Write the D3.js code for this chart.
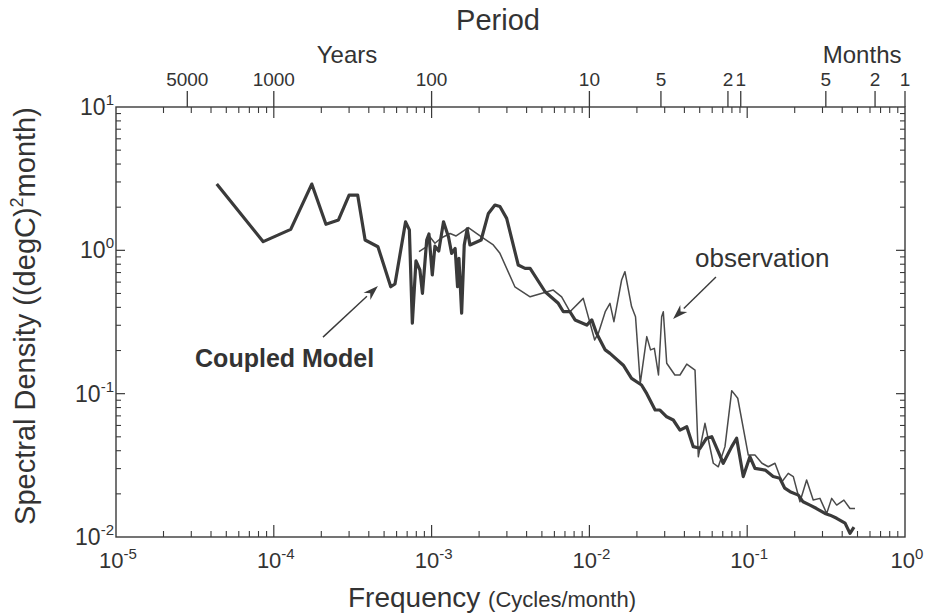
<!DOCTYPE html>
<html><head><meta charset="utf-8">
<script src="https://cdn.jsdelivr.net/npm/d3@7"></script>
<style>body{margin:0;background:#fff}svg{display:block}</style></head>
<body><svg id="c" width="928" height="615"></svg>
<script>
// ---- data ----
const modelFreq = [4.35e-5, 8.57e-5, 1.28e-4, 1.74e-4, 2.14e-4, 2.57e-4, 3.00e-4, 3.40e-4, 3.79e-4, 4.57e-4,
  5.51e-4, 5.86e-4, 6.84e-4, 7.23e-4, 7.55e-4, 7.96e-4, 8.43e-4, 8.75e-4, 9.31e-4, 9.62e-4,
  1.01e-3, 1.05e-3, 1.11e-3, 1.19e-3, 1.28e-3, 1.34e-3, 1.41e-3, 1.46e-3, 1.49e-3, 1.55e-3,
  1.61e-3, 1.68e-3, 1.75e-3, 2.06e-3, 2.29e-3, 2.52e-3, 2.71e-3, 2.99e-3, 3.54e-3, 3.91e-3,
  4.21e-3, 5.24e-3, 6.35e-3, 6.84e-3, 7.53e-3, 8.11e-3, 9.62e-3, 1.035e-2, 1.11e-2, 1.26e-2,
  1.35e-2, 1.64e-2, 1.85e-2, 2.14e-2, 2.31e-2, 2.61e-2, 2.80e-2, 3.09e-2, 3.40e-2, 3.75e-2,
  4.14e-2, 4.55e-2, 5.02e-2, 5.53e-2, 5.96e-2, 7.05e-2, 7.98e-2, 8.57e-2, 9.44e-2, 0.104,
  0.112, 0.130, 0.146, 0.161, 0.173, 0.187, 0.211, 0.226, 0.250, 0.275,
  0.311, 0.335, 0.369, 0.417, 0.448, 0.475];
const modelDensity = [2.90, 1.15, 1.40, 2.90, 1.52, 1.63, 2.43, 2.43, 1.18, 1.06,
  0.557, 0.582, 1.58, 1.39, 0.310, 0.843, 0.729, 0.501, 1.18, 1.30,
  0.673, 1.07, 0.99, 1.58, 1.24, 0.953, 1.03, 0.557, 0.879, 0.364,
  1.09, 1.41, 1.09, 1.18, 1.81, 2.07, 2.02, 1.67, 0.790, 0.749,
  0.749, 0.514, 0.427, 0.373, 0.373, 0.327, 0.301, 0.327, 0.264, 0.202,
  0.191, 0.158, 0.128, 0.115, 0.100, 0.0769, 0.0769, 0.0690, 0.0655, 0.0557,
  0.0588, 0.0427, 0.0416, 0.0489, 0.0501, 0.0327, 0.0427, 0.0489, 0.0264, 0.0363,
  0.0301, 0.0293, 0.0264, 0.0257, 0.0219, 0.0207, 0.0196, 0.0176, 0.0167, 0.0158,
  0.0146, 0.0142, 0.0135, 0.0125, 0.0106, 0.0117];

const obsFreq = [8.32e-4, 9.31e-4, 9.77e-4, 1.05e-3, 1.15e-3, 1.31e-3, 1.43e-3, 1.71e-3, 2.07e-3, 2.46e-3,
  2.71e-3, 3.37e-3, 4.21e-3, 5.90e-3, 6.67e-3, 7.53e-3, 9.14e-3, 1.08e-2, 1.14e-2, 1.26e-2,
  1.35e-2, 1.43e-2, 1.60e-2, 1.68e-2, 1.85e-2, 1.96e-2, 2.10e-2, 2.31e-2, 2.44e-2, 2.58e-2,
  2.74e-2, 2.87e-2, 2.94e-2, 3.09e-2, 3.48e-2, 3.75e-2, 4.14e-2, 4.67e-2, 4.90e-2, 5.40e-2,
  6.10e-2, 6.56e-2, 7.23e-2, 7.98e-2, 8.71e-2, 0.1016, 0.112, 0.124, 0.136, 0.150,
  0.166, 0.182, 0.196, 0.216, 0.238, 0.262, 0.289, 0.319, 0.343, 0.369,
  0.410, 0.448, 0.482];
const obsDensity = [0.978, 1.06, 1.24, 1.12, 1.22, 1.31, 1.26, 1.44, 1.24, 1.09,
  0.953, 0.557, 0.474, 0.528, 0.474, 0.373, 0.462, 0.237, 0.264, 0.373,
  0.427, 0.318, 0.621, 0.710, 0.405, 0.344, 0.118, 0.250, 0.202, 0.207,
  0.135, 0.344, 0.373, 0.163, 0.135, 0.135, 0.161, 0.146, 0.0363, 0.0621,
  0.0327, 0.0309, 0.0427, 0.105, 0.0929, 0.0373, 0.0373, 0.0327, 0.0309, 0.0327,
  0.0243, 0.0278, 0.0264, 0.0176, 0.0250, 0.0181, 0.0186, 0.0146, 0.0186, 0.0167,
  0.0181, 0.0158, 0.0158];

const freqDecades = [1e-5, 1e-4, 1e-3, 1e-2, 1e-1, 1];
const freqExponents = ["-5", "-4", "-3", "-2", "-1", "0"];
const densityDecades = [10, 1, 0.1, 0.01];
const densityExponents = ["1", "0", "-1", "-2"];
const periodTickFreq = [2.83e-5, 1e-4, 1e-3, 1e-2, 2.84e-2, 7.55e-2, 9.1e-2, 0.315, 0.646, 1];
const periodLabels = ["5000", "1000", "100", "10", "5", "2", "1", "5", "2", "1"];
const periodGroups = [["Years", 2.91e-4], ["Months", 0.535]];

// annotations in data coordinates [freq, density]
const modelArrow = [[2.05e-4, 0.248], [4.57e-4, 0.563]];
const obsArrow = [[6.34e-2, 0.652], [3.39e-2, 0.332]];
const modelLabelAt = [3.17e-5, 0.153];
const obsLabelAt = [4.67e-2, 0.766];

// ---- drawing ----
const svg = d3.select("#c");
const ink = "#3a3a3a";
const font = "'Liberation Sans', Arial, Helvetica, sans-serif";
const x = d3.scaleLog().domain([1e-5, 1]).range([116, 905]);
const y = d3.scaleLog().domain([0.01, 10]).range([537, 107]);
const [x0, x1] = x.range(), [y0, y1] = y.range();

svg.append("rect").attr("width", 928).attr("height", 615).attr("fill", "#fff");

const minorOf = dom => {
  const out = [];
  const lo = Math.round(Math.log10(dom[0])), hi = Math.round(Math.log10(dom[1]));
  for (let k = lo; k < hi; k++) for (let m = 2; m <= 9; m++) out.push(m * Math.pow(10, k));
  return out;
};
const xMinor = minorOf(x.domain());
const yMinor = minorOf(y.domain());

const g = svg.append("g").attr("stroke", ink).attr("fill", "none");
g.append("rect").attr("x", x0).attr("y", y1).attr("width", x1 - x0).attr("height", y0 - y1).attr("stroke-width", 1.4);

// bottom ticks (inward)
g.selectAll(".bM").data(freqDecades.slice(1, -1)).join("line")
  .attr("x1", d => x(d)).attr("x2", d => x(d)).attr("y1", y0).attr("y2", y0 - 12).attr("stroke-width", 1.2);
g.selectAll(".bm").data(xMinor).join("line")
  .attr("x1", d => x(d)).attr("x2", d => x(d)).attr("y1", y0).attr("y2", y0 - 6).attr("stroke-width", 1.1);
// top mirrored ticks (inward)
g.selectAll(".tM").data(freqDecades.slice(1, -1)).join("line")
  .attr("x1", d => x(d)).attr("x2", d => x(d)).attr("y1", y1).attr("y2", y1 + 11).attr("stroke-width", 1.2);
g.selectAll(".tm").data(xMinor).join("line")
  .attr("x1", d => x(d)).attr("x2", d => x(d)).attr("y1", y1).attr("y2", y1 + 6).attr("stroke-width", 1.1);
// period ticks (outward, above)
g.selectAll(".pt").data(periodTickFreq).join("line")
  .attr("x1", d => x(d)).attr("x2", d => x(d)).attr("y1", y1).attr("y2", y1 - 16).attr("stroke-width", 1.3);
// left ticks
g.selectAll(".lM").data(densityDecades.slice(1, -1)).join("line")
  .attr("x1", x0).attr("x2", x0 + 9).attr("y1", d => y(d)).attr("y2", d => y(d)).attr("stroke-width", 1.2);
g.selectAll(".lm").data(yMinor).join("line")
  .attr("x1", x0).attr("x2", x0 + 5).attr("y1", d => y(d)).attr("y2", d => y(d)).attr("stroke-width", 1.1);
// right ticks
g.selectAll(".rM").data(densityDecades.slice(1, -1)).join("line")
  .attr("x1", x1).attr("x2", x1 - 9).attr("y1", d => y(d)).attr("y2", d => y(d)).attr("stroke-width", 1.2);
g.selectAll(".rm").data(yMinor).join("line")
  .attr("x1", x1).attr("x2", x1 - 5).attr("y1", d => y(d)).attr("y2", d => y(d)).attr("stroke-width", 1.1);

// series
const line = d3.line().x(d => x(d[0])).y(d => y(d[1]));
const obs = obsFreq.map((f, i) => [f, obsDensity[i]]);
const model = modelFreq.map((f, i) => [f, modelDensity[i]]);
svg.append("path").datum(obs).attr("d", line).attr("fill", "none")
  .attr("stroke", "#4a4a4a").attr("stroke-width", 1.5).attr("stroke-linejoin", "round");
svg.append("path").datum(model).attr("d", line).attr("fill", "none")
  .attr("stroke", ink).attr("stroke-width", 3.2).attr("stroke-linejoin", "round");

// text
const T = svg.append("g").attr("fill", "#333").style("font-family", font);

// bottom labels
freqDecades.forEach((d, i) => {
  const t = T.append("text").attr("x", x(d) + 2).attr("y", 568).attr("text-anchor", "middle").style("font-size", "22px");
  t.append("tspan").text("10");
  t.append("tspan").attr("dy", -9).style("font-size", "15px").text(freqExponents[i]);
});
// left labels
densityDecades.forEach((d, i) => {
  const t = T.append("text").attr("x", 114).attr("y", y(d) + 8).attr("text-anchor", "end").style("font-size", "23px");
  t.append("tspan").text("10");
  t.append("tspan").attr("dy", -10).style("font-size", "15px").text(densityExponents[i]);
});
// period labels
T.selectAll(".pl").data(periodTickFreq).join("text")
  .attr("x", d => x(d)).attr("y", 86).attr("text-anchor", "middle").style("font-size", "19px")
  .text((d, i) => periodLabels[i]);
T.selectAll(".pg").data(periodGroups).join("text")
  .attr("x", d => x(d[1])).attr("y", 63).attr("text-anchor", "middle").style("font-size", "24px")
  .text(d => d[0]);
T.append("text").attr("x", 498).attr("y", 30).attr("text-anchor", "middle").style("font-size", "29px").text("Period");

// x title
const xt = T.append("text").attr("x", 492).attr("y", 607).attr("text-anchor", "middle");
xt.append("tspan").style("font-size", "28px").text("Frequency ");
xt.append("tspan").style("font-size", "22px").text("(Cycles/month)");

// y title
const yt = T.append("text").attr("transform", "translate(35,316) rotate(-90)").attr("text-anchor", "middle").style("font-size", "29px");
yt.append("tspan").text("Spectral Density  ((degC)");
yt.append("tspan").attr("dy", -12).style("font-size", "18px").text("2");
yt.append("tspan").attr("dy", 12).text("month)");

// annotations
T.append("text").attr("x", x(modelLabelAt[0])).attr("y", y(modelLabelAt[1]))
  .style("font-size", "25px").style("font-weight", "bold").text("Coupled Model");
T.append("text").attr("x", x(obsLabelAt[0])).attr("y", y(obsLabelAt[1]))
  .style("font-size", "26px").text("observation");

function arrow(pts) {
  const [a, b] = pts.map(p => [x(p[0]), y(p[1])]);
  const ang = Math.atan2(b[1] - a[1], b[0] - a[0]);
  const L = 15, Wd = 5;
  const bx = b[0] - L * Math.cos(ang), by = b[1] - L * Math.sin(ang);
  svg.append("line").attr("x1", a[0]).attr("y1", a[1]).attr("x2", bx).attr("y2", by)
    .attr("stroke", ink).attr("stroke-width", 1.4);
  const p1 = [bx + Wd * Math.sin(ang), by - Wd * Math.cos(ang)];
  const p2 = [bx - Wd * Math.sin(ang), by + Wd * Math.cos(ang)];
  const bk = [b[0] - 0.7 * L * Math.cos(ang), b[1] - 0.7 * L * Math.sin(ang)];
  svg.append("path").attr("d", `M${b[0]},${b[1]}L${p1[0]},${p1[1]}L${bk[0]},${bk[1]}L${p2[0]},${p2[1]}Z`)
    .attr("fill", ink);
}
arrow(modelArrow);
arrow(obsArrow);
</script>
</body></html>
